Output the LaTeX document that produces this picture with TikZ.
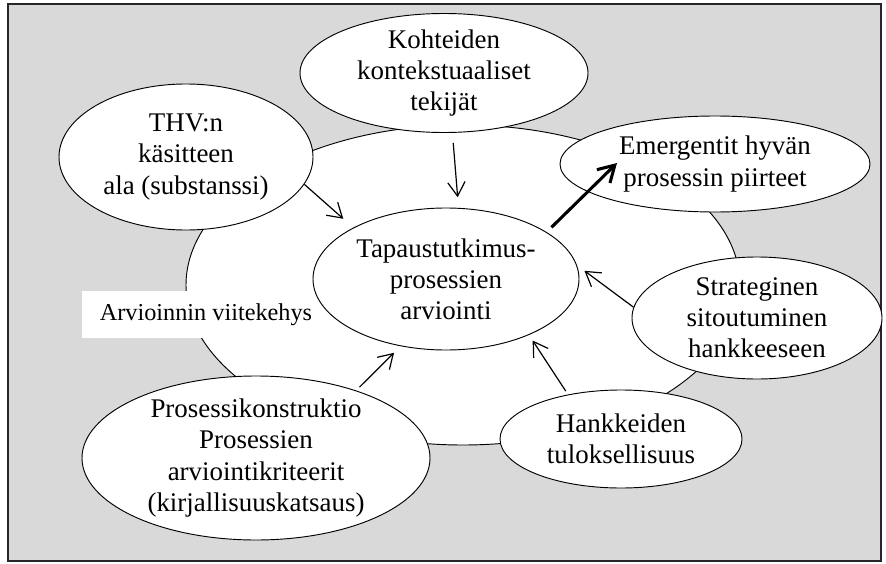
\documentclass[tikz,border=0pt]{standalone}
\usepackage{fontspec}
\setmainfont{Liberation Serif}
\usetikzlibrary{shapes.geometric,arrows.meta}
\tikzset{
  panel/.style={draw=black!85,line width=1.5pt,fill=black!15},
  bubble/.style 2 args={ellipse,draw=black,fill=white,line width=0.7pt,
    minimum width=#1*0.75pt,minimum height=#2*0.75pt,inner sep=-8pt,
    align=center,font=\fontsize{20.2pt}{23.4pt}\selectfont},
  tag/.style={rectangle,fill=white,inner sep=0pt,
    minimum width=186pt,minimum height=35pt,
    font=\fontsize{18.2pt}{21pt}\selectfont},
  link/.style={line width=0.9pt,-{Straight Barb[length=10.5pt,width=13pt]}},
  boldlink/.style={line width=2.3pt,-{Straight Barb[length=12pt,width=14pt]}}
}
\begin{document}
\begin{tikzpicture}[x=0.75pt,y=-0.75pt]
\useasboundingbox (0,0) rectangle (886,564);
\fill[white] (0,0) rectangle (886,564);
\draw[panel] (8,4) rectangle (881,561);

% framework ellipse and its caption
\node[bubble={554}{320}] (frame) at (463,285) {};
\node[tag] (caption) at (206,314.5) {Arvioinnin viitekehys};

% central topic
\node[bubble={266}{142}] (cen) at (446,279) {Tapaustutkimus-\\prosessien\\arviointi};

% surrounding factors
\node[bubble={288}{119}] (koh) at (444,73) {Kohteiden\\kontekstuaaliset\\tekijät};
\node[bubble={254}{146}] (thv) at (186,157) {THV:n\\käsitteen\\ala (substanssi)};
\node[bubble={310}{96}]  (emg) at (715,164) {Emergentit hyvän\\prosessin piirteet};
\node[bubble={250}{122}] (str) at (757,318) {Strateginen\\sitoutuminen\\hankkeeseen};
\node[bubble={242}{98}]  (han) at (621,439) {Hankkeiden\\tuloksellisuus};
\node[bubble={348}{164}] (pro) at (256,458) {Prosessikonstruktio\\Prosessien\\arviointikriteerit\\(kirjallisuuskatsaus)};

\coordinate (emgtip) at (617,163);

% influences
\draw[link,shorten <=7.5pt,shorten >=8pt] (koh.-82.5) -- (cen.80.2);
\draw[link,shorten >=10pt] (thv.-13.6) -- (cen.151.7);
\draw[link,shorten >=7pt] (str.175.4) -- (cen.6.6);
\draw[link,shorten <=3pt,shorten >=5pt] (han.140) -- (cen.-34.8);
\draw[link,shorten <=3.5pt,shorten >=7pt] (pro.34.2) -- (cen.236.7);
\draw[boldlink,shorten <=5pt] (cen.25.9) -- (emgtip);
\end{tikzpicture}
\end{document}
